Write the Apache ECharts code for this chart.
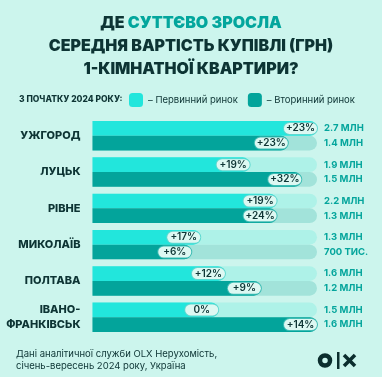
<!DOCTYPE html>
<html lang="uk">
<head>
<meta charset="UTF-8">
<title>Ціни на 1-кімнатні квартири</title>
<script src="https://cdn.jsdelivr.net/npm/echarts@6/dist/echarts.min.js"></script>
<style>
  html, body { margin: 0; padding: 0; background: #ccf5ed; }
  #main { width: 382px; height: 377px; }
</style>
</head>
<body>
<div id="main"></div>
<script>
// міста (зверху вниз)
var cities = ['УЖГОРОД', 'ЛУЦЬК', 'РІВНЕ', 'МИКОЛАЇВ', 'ПОЛТАВА', 'ІВАНО-\nФРАНКІВСЬК'];
// довжина смуг у % від доріжки (як на інфографіці)
var primaryBar = [100, 70, 82, 48, 59, 56];
var secondaryBar = [87, 93, 82, 44, 75, 100];
// підписи приросту
var primaryGrowth = ['+23%', '+19%', '+19%', '+17%', '+12%', '0%'];
var secondaryGrowth = ['+23%', '+32%', '+24%', '+6%', '+9%', '+14%'];
// середня вартість
var primaryPrice = ['2.7 МЛН', '1.9 МЛН', '2.2 МЛН', '1.3 МЛН', '1.6 МЛН', '1.5 МЛН'];
var secondaryPrice = ['1.4 МЛН', '1.5 МЛН', '1.3 МЛН', '700 ТИС.', '1.2 МЛН', '1.6 МЛН'];
var trackMax = 100;

var dark = '#0d3434';
var font = 'Inter';

function pill(list, border) {
    return {
        show: true,
        position: 'insideRight',
        distance: 0,
        offset: [-16.5, 0],
        formatter: function (p) { return list[p.dataIndex]; },
        backgroundColor: '#ddf8f2',
        borderColor: border,
        borderWidth: 1,
        borderRadius: 6,
        width: 27,
        height: 11,
        lineHeight: 11,
        align: 'center',
        padding: [0, 3],
        fontFamily: font,
        fontSize: 10,
        fontWeight: 600,
        color: dark
    };
}

function price(list) {
    return {
        show: true,
        position: 'right',
        distance: 7,
        formatter: function (p) { return list[p.dataIndex]; },
        fontFamily: font,
        fontSize: 9.5,
        fontWeight: 700,
        color: '#05a59c'
    };
}

var chart = echarts.init(document.getElementById('main'));
chart.setOption({
    backgroundColor: '#ccf5ed',
    animation: false,
    title: {
        left: 'center',
        top: 12,
        padding: 0,
        text: '{a|ДЕ }{b|СУТТЄВО ЗРОСЛА}\n{a|СЕРЕДНЯ ВАРТІСТЬ КУПІВЛІ (ГРН)}\n{a|1-КІМНАТНОЇ КВАРТИРИ?}',
        textStyle: {
            rich: {
                a: { fontFamily: font, fontWeight: 900, fontSize: 16, lineHeight: 23, color: dark },
                b: { fontFamily: font, fontWeight: 900, fontSize: 16, lineHeight: 23, color: '#03a69d' }
            }
        }
    },
    legend: {
        left: 129,
        top: 93,
        padding: 0,
        itemWidth: 14,
        itemHeight: 14,
        itemGap: 10,
        icon: 'roundRect',
        data: ['Первинний ринок', 'Вторинний ринок'],
        formatter: '– {name}',
        textStyle: { fontFamily: font, fontSize: 9.5, color: dark }
    },
    graphic: [
        {
            type: 'text', left: 19, top: 95,
            style: { text: 'З ПОЧАТКУ 2024 РОКУ:', fontFamily: font, fontSize: 8.5, fontWeight: 800, fill: dark }
        },
        {
            type: 'text', left: 16, top: 348,
            style: {
                text: 'Дані аналітичної служби OLX Нерухомість,\nсічень-вересень 2024 року, Україна',
                fontFamily: font, fontSize: 9.5, lineHeight: 12, fill: dark
            }
        },
        { type: 'circle', shape: { cx: 325, cy: 360.5, r: 5 }, style: { fill: 'none', stroke: '#0b2e2e', lineWidth: 4.5 } },
        { type: 'rect', shape: { x: 337, y: 352, width: 2.5, height: 17 }, style: { fill: '#0b2e2e' } },
        { type: 'line', shape: { x1: 344, y1: 355, x2: 355, y2: 366 }, style: { stroke: '#0b2e2e', lineWidth: 3.5 } },
        { type: 'line', shape: { x1: 355, y1: 355, x2: 344, y2: 366 }, style: { stroke: '#0b2e2e', lineWidth: 3.5 } }
    ],
    grid: { left: 92.5, right: 65, top: 117.6, height: 217.8 },
    xAxis: { type: 'value', min: 0, max: trackMax, show: false },
    yAxis: [
        {
            type: 'category', data: cities, inverse: true,
            axisLine: { show: false }, axisTick: { show: false },
            axisLabel: {
                margin: 12, fontFamily: font, fontSize: 11, fontWeight: 800,
                color: dark, lineHeight: 15, align: 'right'
            }
        },
        { type: 'category', data: cities, inverse: true, show: false }
    ],
    series: [
        {
            name: 'Первинний доріжка', type: 'bar', yAxisIndex: 1, z: 1,
            barWidth: 14.7, barGap: '0%',
            data: cities.map(function () { return trackMax; }),
            itemStyle: { color: '#aef2e8', borderRadius: [0, 8, 8, 0] },
            label: price(primaryPrice), silent: true
        },
        {
            name: 'Вторинний доріжка', type: 'bar', yAxisIndex: 1, z: 1,
            barWidth: 14.7, barGap: '0%',
            data: cities.map(function () { return trackMax; }),
            itemStyle: { color: '#a2e3da', borderRadius: [0, 8, 8, 0] },
            label: price(secondaryPrice), silent: true
        },
        {
            name: 'Первинний ринок', type: 'bar', yAxisIndex: 0, z: 3,
            barWidth: 14.7, barGap: '0%',
            data: primaryBar,
            itemStyle: { color: '#22e6dc', borderRadius: [0, 7, 7, 0] },
            label: pill(primaryGrowth, '#5fd8d0')
        },
        {
            name: 'Вторинний ринок', type: 'bar', yAxisIndex: 0, z: 3,
            barWidth: 14.7, barGap: '0%',
            data: secondaryBar,
            itemStyle: { color: '#03a49b', borderRadius: [0, 7, 7, 0] },
            label: pill(secondaryGrowth, '#3fbdb5')
        }
    ]
});
window.addEventListener('resize', function () { chart.resize(); });
</script>
</body>
</html>
